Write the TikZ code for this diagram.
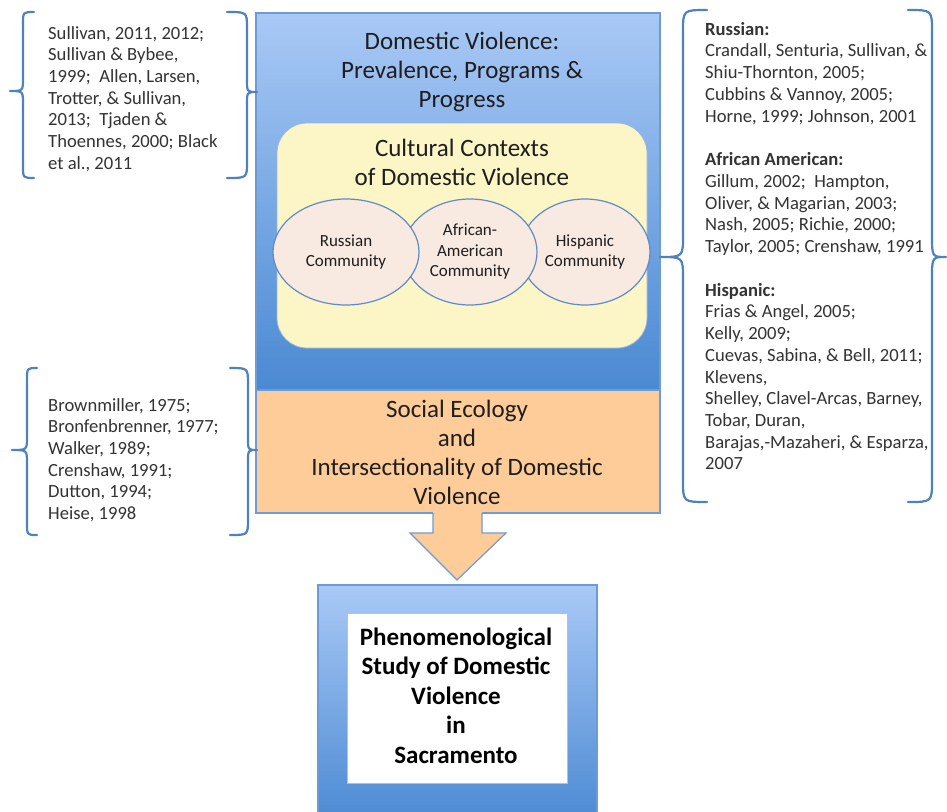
\documentclass[tikz,border=0pt]{standalone}
\usepackage{fontspec}
\setmainfont{Carlito}
\usetikzlibrary{shapes.geometric}
\definecolor{braceblue}{HTML}{4F81BD}
\definecolor{boxline}{HTML}{6E9BD5}
\definecolor{bluetop}{HTML}{A9C9F6}
\definecolor{bluebot}{HTML}{4A89D2}
\definecolor{yellowfill}{HTML}{FCF5C6}
\definecolor{ellfill}{HTML}{F8E9E1}
\definecolor{ellline}{HTML}{5D8CC7}
\definecolor{orangefill}{HTML}{FECC99}
\definecolor{txt}{HTML}{1E1E1E}
\definecolor{citetxt}{HTML}{333333}
\tikzset{
  cite/.style={anchor=north west, align=left, inner sep=0pt, text=citetxt,
    font=\fontsize{18.6}{21.7}\selectfont},
  bracestyle/.style={draw=braceblue, line width=2.2pt, line cap=round, line join=round},
  bigtext/.style={align=center, inner sep=0pt, text=txt, font=\fontsize{25}{29}\selectfont},
  boldtext/.style={align=center, inner sep=0pt, text=black, font=\fontsize{25}{29.5}\selectfont\bfseries},
  community/.style={ellipse, draw=ellline, line width=1.2pt, fill=ellfill, inner sep=0pt,
    align=center, text=txt, font=\fontsize{17}{20.5}\selectfont, minimum height=106pt},
  gradbox/.style={draw=boxline, line width=1.2pt, top color=bluetop, bottom color=bluebot, inner sep=0pt},
}
\begin{document}
\begin{tikzpicture}[x=1pt,y=-1pt]
\useasboundingbox (0,0) rectangle (947,811);
\clip (0,0) rectangle (947,811);
\fill[white] (0,0) rectangle (947,811);

% main blue box
\node[gradbox, minimum width=404pt, minimum height=377pt] (dv) at (458,201.5) {};
\node[bigtext] (dvtitle) at (462,72) {Domestic Violence:\\Prevalence, Programs \&\\Progress};

% cultural contexts box
\node[draw=boxline!70, line width=0.8pt, fill=yellowfill, rounded corners=30pt,
  minimum width=370pt, minimum height=225pt, inner sep=0pt] (cc) at (462,235.5) {};
\node[bigtext] (cctitle) at (462,162) {Cultural Contexts\\of Domestic Violence};

% communities
\node[community, minimum width=130pt] (hi) at (585,252) {Hispanic\\Community};
\node[community, minimum width=134pt] (aa) at (470,252) {African-\\American\\Community};
\node[community, minimum width=146pt] (ru) at (346,252) {Russian\\Community};

% social ecology box
\node[draw=boxline, line width=1.2pt, fill=orangefill, minimum width=404pt, minimum height=123pt,
  inner sep=0pt] (se) at (458,451.5) {};
\node[bigtext] (setext) at (457,452.5) {Social Ecology\\and\\Intersectionality of Domestic\\Violence};

% study box
\node[gradbox, minimum width=279pt, minimum height=240pt] (study) at (457.5,705) {};
\node[draw=boxline!60, line width=1pt, fill=white, minimum width=220pt, minimum height=170pt,
  inner sep=0pt] (inner) at (457,698) {};
\node[boldtext] (studytext) at (456,695.5) {Phenomenological\\Study of Domestic\\Violence\\in\\Sacramento};

% arrow from social ecology to study
\fill[orangefill] (433,511) -- (433,533) -- (410,533) -- (457,580) -- (506,533) -- (482,533) -- (482,511) -- cycle;
\draw[boxline, line width=1.2pt, line join=miter] (433,513) -- (433,533) -- (410,533) -- (457,580) -- (506,533) -- (482,533) -- (482,513);

% citations
\node[cite] (c1) at (48,26) {Sullivan, 2011, 2012;\\Sullivan \& Bybee,\\1999;\ \ Allen, Larsen,\\Trotter, \& Sullivan,\\2013;\ \ Tjaden \&\\Thoennes, 2000; Black\\et al., 2011};
\node[cite] (c2) at (48,398) {Brownmiller, 1975;\\Bronfenbrenner, 1977;\\Walker, 1989;\\Crenshaw, 1991;\\Dutton, 1994;\\Heise, 1998};
\node[cite] (c3) at (705,22) {\textbf{Russian:}\\Crandall, Senturia, Sullivan, \&\\Shiu-Thornton, 2005;\\Cubbins \& Vannoy, 2005;\\Horne, 1999; Johnson, 2001\\[22pt]
\textbf{African American:}\\Gillum, 2002;\ \ Hampton,\\Oliver, \& Magarian, 2003;\\Nash, 2005; Richie, 2000;\\Taylor, 2005; Crenshaw, 1991\\[22pt]
\textbf{Hispanic:}\\Frias \& Angel, 2005;\\Kelly, 2009;\\Cuevas, Sabina, \& Bell, 2011;\\Klevens,\\Shelley, Clavel-Arcas, Barney,\\Tobar, Duran,\\Barajas,-Mazaheri, \& Esparza,\\2007};

% braces
\draw[bracestyle] (34,12) .. controls (23,12) .. (23,24) -- (23,78) .. controls (23,91) .. (10,91) .. controls (23,91) .. (23,104) -- (23,166) .. controls (23,178) .. (34,178);
\draw[bracestyle] (227,12) .. controls (247,12) .. (247,28) -- (247,80) .. controls (247,92) .. (257,92) .. controls (247,92) .. (247,104) -- (247,162) .. controls (247,178) .. (227,178);
\draw[bracestyle] (37,368) .. controls (27,368) .. (27,380) -- (27,437) .. controls (27,450) .. (12,450) .. controls (27,450) .. (27,463) -- (27,523) .. controls (27,535) .. (37,535);
\draw[bracestyle] (230,368) .. controls (248,368) .. (248,384) -- (248,438) .. controls (248,450) .. (257,450) .. controls (248,450) .. (248,462) -- (248,519) .. controls (248,535) .. (230,535);
\draw[bracestyle] (707,10) .. controls (683,10) .. (683,32) -- (683,235) .. controls (683,257) .. (660,257) .. controls (683,257) .. (683,279) -- (683,480) .. controls (683,502) .. (707,502);
\draw[bracestyle] (908,10) .. controls (932,10) .. (932,32) -- (932,235) .. controls (932,257) .. (946,257) .. controls (932,257) .. (932,279) -- (932,480) .. controls (932,502) .. (908,502);
\end{tikzpicture}
\end{document}
